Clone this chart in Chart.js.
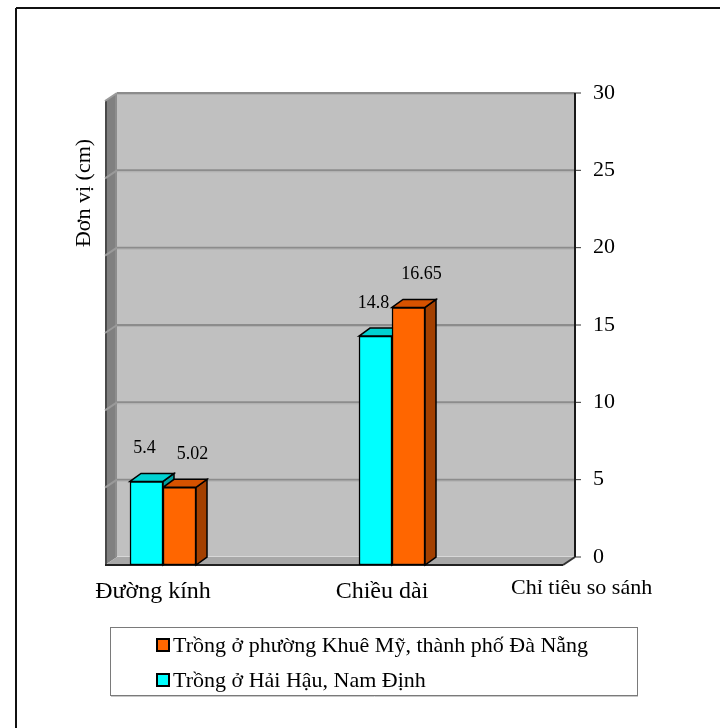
<!DOCTYPE html>
<html>
<head>
<meta charset="utf-8">
<script src="https://cdn.jsdelivr.net/npm/chart.js@4/dist/chart.umd.min.js"></script>
<style>
  html, body { margin: 0; padding: 0; background: #ffffff; }
  #wrap { width: 720px; height: 728px; }
</style>
</head>
<body>
<div id="wrap"><canvas id="chart" width="720" height="728"></canvas></div>
<script>
// ---- data ----
const categories = ['Đường kính', 'Chiều dài'];
const haiHau = [5.4, 14.8];
const khueMy = [5.02, 16.65];
const seriesNames = ['Trồng ở Hải Hậu, Nam Định', 'Trồng ở phường Khuê Mỹ, thành phố Đà Nẵng'];
const yTickValues = [0, 5, 10, 15, 20, 25, 30];
const yTitle = 'Đơn vị (cm)';
const xTitle = 'Chỉ tiêu so sánh';

// ---- styling ----
const FONT = '"Liberation Serif", "Times New Roman", serif';
const WALL_DX = 12, WALL_DY = 8;   // depth of the walls / floor
const BAR_DX = 11, BAR_DY = 8;     // depth of each column
const faceColors = [
  { front: '#00ffff', top: '#00d2d2', side: '#00a0a0' },
  { front: '#ff6600', top: '#d65200', side: '#a34000' }
];
const valueLabelShift = [{ dx: -2, dy: -33 }, { dx: 13, dy: -33 }];

function poly(ctx, pts, fill, stroke, lw) {
  ctx.beginPath();
  ctx.moveTo(pts[0][0], pts[0][1]);
  for (let i = 1; i < pts.length; i++) ctx.lineTo(pts[i][0], pts[i][1]);
  ctx.closePath();
  if (fill) { ctx.fillStyle = fill; ctx.fill(); }
  if (stroke) { ctx.strokeStyle = stroke; ctx.lineWidth = lw || 1; ctx.stroke(); }
}
function line(ctx, x1, y1, x2, y2, color, lw) {
  ctx.beginPath();
  ctx.moveTo(x1, y1); ctx.lineTo(x2, y2);
  ctx.strokeStyle = color; ctx.lineWidth = lw; ctx.stroke();
}

// Walls, floor, gridlines and column depth faces
const box3d = {
  id: 'box3d',
  beforeDraw(chart) {
    const ctx = chart.ctx;
    ctx.save();
    ctx.fillStyle = '#ffffff';
    ctx.fillRect(0, 0, chart.width, chart.height);
    // outer frame (top and left edges)
    line(ctx, 16, 8, chart.width, 8, '#111', 2);
    line(ctx, 16, 8, 16, chart.height, '#111', 2);
    ctx.restore();
  },
  beforeDatasetsDraw(chart) {
    const { ctx, chartArea: a, scales: { y } } = chart;
    const L = a.left, R = a.right, T = a.top, B = a.bottom;
    ctx.save();
    // back wall
    ctx.fillStyle = '#c0c0c0';
    ctx.fillRect(L + WALL_DX, T - WALL_DY, R - L, B - T);
    line(ctx, L + WALL_DX, T - WALL_DY + 0.5, R + WALL_DX, T - WALL_DY + 0.5, '#a0a0a0', 1);
    // left side wall
    poly(ctx, [[L, T], [L + WALL_DX, T - WALL_DY], [L + WALL_DX, B - WALL_DY], [L, B]], '#808080');
    line(ctx, L + 1, T, L + 1, B, '#4a4a4a', 2);
    line(ctx, L + WALL_DX - 1, T - WALL_DY, L + WALL_DX - 1, B - WALL_DY, '#9a9a9a', 1);
    // floor
    poly(ctx, [[L, B], [L + WALL_DX, B - WALL_DY], [R + WALL_DX, B - WALL_DY], [R, B]], '#a8a8a8');
    line(ctx, L + WALL_DX, B - WALL_DY - 0.5, R + WALL_DX, B - WALL_DY - 0.5, '#d8d8d8', 1);
    // gridlines on the back wall and the side wall, plus value-axis ticks
    y.ticks.forEach(t => {
      const py = y.getPixelForValue(t.value) - WALL_DY;
      if (t.value !== 0) {
        line(ctx, L + WALL_DX, py, R + WALL_DX, py, '#8c8c8c', 2);
        line(ctx, L + WALL_DX, py + 1.5, R + WALL_DX, py + 1.5, '#b0b0b0', 1);
        line(ctx, L, py + WALL_DY, L + WALL_DX, py, '#9a9a9a', 2);
      }
      line(ctx, R + WALL_DX, py, R + WALL_DX + 6, py, '#333', 1);
    });
    // right edge of the wall and the floor outline
    line(ctx, R + WALL_DX, T - WALL_DY, R + WALL_DX, B - WALL_DY, '#1a1a1a', 2);
    line(ctx, R + WALL_DX, B - WALL_DY, R, B, '#333', 2);
    line(ctx, L, B, R, B, '#222', 2);
    // depth faces of the columns (front faces are drawn by Chart.js on top)
    chart.data.datasets.forEach((ds, di) => {
      const meta = chart.getDatasetMeta(di);
      const c = faceColors[di];
      meta.data.forEach(el => {
        const x0 = el.x - el.width / 2, x1 = el.x + el.width / 2;
        poly(ctx, [[x1, el.y], [x1 + BAR_DX, el.y - BAR_DY], [x1 + BAR_DX, el.base - BAR_DY], [x1, el.base]], c.side, '#000', 1.5);
        poly(ctx, [[x0, el.y], [x0 + BAR_DX, el.y - BAR_DY], [x1 + BAR_DX, el.y - BAR_DY], [x1, el.y]], c.top, '#000', 1.5);
      });
    });
    ctx.restore();
  },
  afterDatasetsDraw(chart) {
    const ctx = chart.ctx;
    ctx.save();
    ctx.fillStyle = '#000';
    ctx.font = '18px ' + FONT;
    ctx.textAlign = 'center';
    ctx.textBaseline = 'middle';
    chart.data.datasets.forEach((ds, di) => {
      const s = valueLabelShift[di];
      chart.getDatasetMeta(di).data.forEach((el, i) => {
        ctx.fillText(String(ds.data[i].y), el.x + s.dx, el.y + s.dy);
      });
    });
    ctx.restore();
  },
  afterDraw(chart) {
    const ctx = chart.ctx;
    ctx.save();
    ctx.fillStyle = '#000';
    ctx.font = '22px ' + FONT;
    // value-axis title
    ctx.save();
    ctx.translate(84, 193);
    ctx.rotate(-Math.PI / 2);
    ctx.textAlign = 'center';
    ctx.textBaseline = 'middle';
    ctx.fillText(yTitle, 0, 0);
    ctx.restore();
    // category-axis title
    ctx.textAlign = 'left';
    ctx.textBaseline = 'middle';
    ctx.fillText(xTitle, 511, 588);
    // legend
    ctx.strokeStyle = '#7a7a7a';
    ctx.lineWidth = 1;
    ctx.strokeRect(110.5, 627.5, 527, 68);
    line(ctx, 111, 696.5, 638, 696.5, '#c8c8c8', 1);
    const order = chart.data.datasets.map((d, i) => i).reverse();
    order.forEach((di, row) => {
      const cy = 645 + row * 35;
      ctx.fillStyle = faceColors[di].front;
      ctx.fillRect(157, cy - 6, 12, 12);
      ctx.strokeStyle = '#000';
      ctx.lineWidth = 2;
      ctx.strokeRect(157, cy - 6, 12, 12);
      ctx.fillStyle = '#000';
      ctx.fillText(chart.data.datasets[di].label, 173, cy + 1);
    });
    ctx.restore();
  }
};

const toPoints = vals => vals.map((v, i) => ({ x: i, y: v }));

new Chart(document.getElementById('chart'), {
  type: 'bar',
  data: {
    datasets: [
      { label: seriesNames[0], data: toPoints(haiHau), backgroundColor: faceColors[0].front },
      { label: seriesNames[1], data: toPoints(khueMy), backgroundColor: faceColors[1].front }
    ]
  },
  options: {
    responsive: false,
    animation: false,
    devicePixelRatio: 1,
    layout: { padding: { left: 105, right: 0, top: 101, bottom: 0 } },
    datasets: {
      bar: { barThickness: 33, borderColor: '#000', borderWidth: 1.5, borderSkipped: false }
    },
    plugins: { legend: { display: false }, tooltip: { enabled: false } },
    scales: {
      x: {
        type: 'linear',
        offset: false,
        min: -0.2533,
        max: 1.7467,
        grid: { display: false, drawTicks: false, offset: false },
        border: { display: false },
        afterBuildTicks: s => { s.ticks = categories.map((c, i) => ({ value: i })); },
        afterFit: s => { s.height = 163; },
        ticks: {
          callback: v => categories[v],
          color: '#000',
          font: { family: FONT, size: 24 },
          padding: 12,
          labelOffset: -10,
          maxRotation: 0,
          autoSkip: false
        }
      },
      y: {
        position: 'right',
        min: 0,
        max: 30,
        grid: { display: false, drawTicks: false },
        border: { display: false },
        afterBuildTicks: s => { s.ticks = yTickValues.map(v => ({ value: v })); },
        afterFit: s => { s.width = 157; },
        ticks: {
          color: '#000',
          font: { family: FONT, size: 22 },
          padding: 30,
          labelOffset: -8
        }
      }
    }
  },
  plugins: [box3d]
});
</script>
</body>
</html>
